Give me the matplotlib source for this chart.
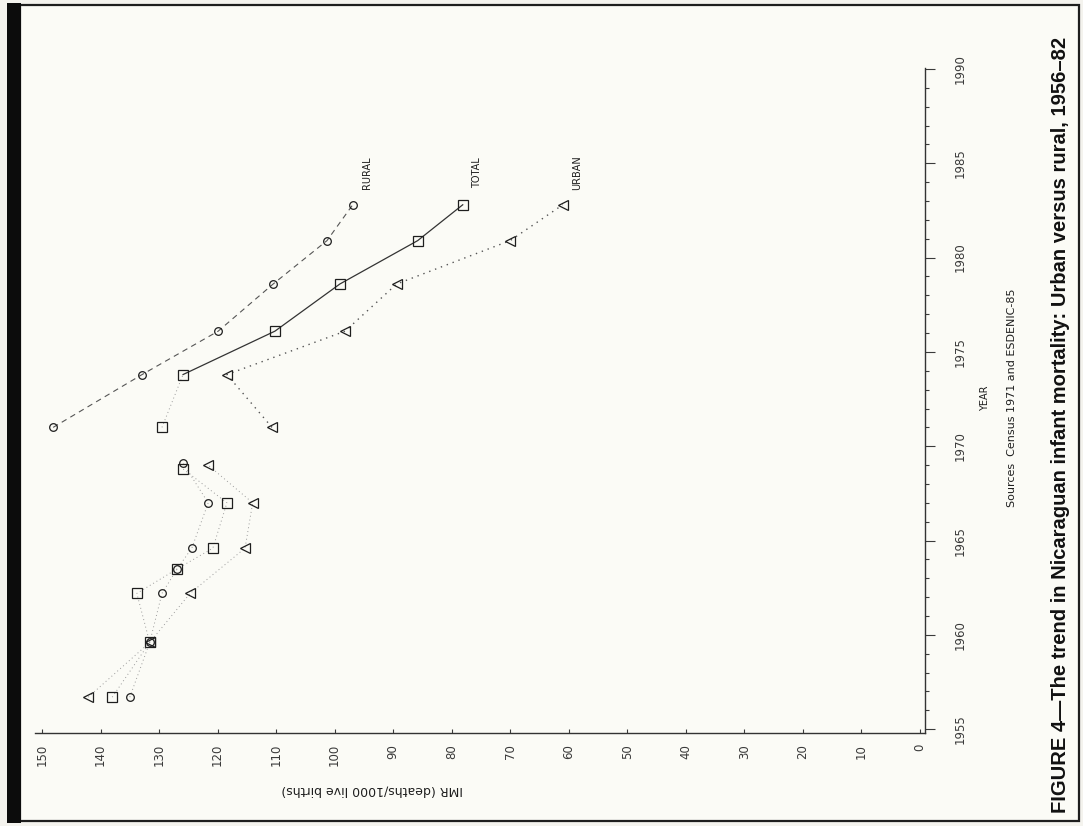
import matplotlib.pyplot as plt
from matplotlib.patches import Rectangle

rural_years = [1956.7, 1959.6, 1962.2, 1963.5, 1964.6, 1967.0, 1969.1,
               1971.0, 1973.8, 1976.1, 1978.6, 1980.9, 1982.8]
rural_imr = [135.0, 131.6, 129.5, 126.9, 124.4, 121.6, 125.9,
             148.1, 132.9, 119.9, 110.5, 101.3, 96.9]

total_years = [1956.7, 1959.6, 1962.2, 1963.5, 1964.6, 1967.0, 1968.8,
               1971.0, 1973.8, 1976.1, 1978.6, 1980.9, 1982.8]
total_imr = [138.0, 131.6, 133.8, 126.9, 120.8, 118.4, 125.9,
             129.5, 125.9, 110.2, 99.1, 85.8, 78.1]

urban_years = [1956.7, 1959.6, 1962.2, 1964.6, 1967.0, 1969.0,
               1971.0, 1973.8, 1976.1, 1978.6, 1980.9, 1982.8]
urban_imr = [142.1, 131.6, 124.7, 115.3, 114.0, 121.6,
             110.7, 118.4, 98.2, 89.4, 70.0, 61.0]

imr_ticks = list(range(0, 151, 10))
year_ticks = list(range(1955, 1991, 5))

W, H = 1083, 826
PAPER = "#fbfbf6"
INK = "#1e1e1e"

fig = plt.figure(figsize=(W / 100, H / 100), dpi=100)
fig.patch.set_facecolor("#f4f3ee")

# page frame
fig.add_artist(Rectangle((20 / W, 5 / H), 1059 / W, 816 / H, transform=fig.transFigure,
                         facecolor=PAPER, edgecolor=INK, linewidth=1.6, zorder=0))
fig.add_artist(Rectangle((7 / W, 3 / H), 14 / W, 820 / H, transform=fig.transFigure,
                         facecolor="#0c0c0c", edgecolor="none", zorder=1))

# plot area: IMR runs right-to-left, year runs bottom-to-top (page turned sideways)
ax = fig.add_axes([35 / W, 1 - 733 / H, 890 / W, 665 / H])
ax.set_facecolor("none")
ax.set_xlim(151.2, -0.9)
ax.set_ylim(1954.8, 1990.05)

for side in ("top", "left"):
    ax.spines[side].set_visible(False)
for side in ("bottom", "right"):
    ax.spines[side].set_color("#333333")
    ax.spines[side].set_linewidth(1.0)

ax.yaxis.tick_right()
ax.set_yticks(year_ticks)
ax.set_yticks(range(1955, 1991), minor=True)
ax.tick_params(axis="y", which="major", direction="out", length=7, width=0.8,
               colors="#3a3a3a", pad=14, labelsize=8.5, labelrotation=90)
ax.tick_params(axis="y", which="minor", direction="out", length=3, width=0.8,
               colors="#3a3a3a")
ax.set_xticks(imr_ticks)
ax.tick_params(axis="x", direction="in", length=3, width=0.8, colors="#3a3a3a",
               pad=8, labelsize=8.5, labelrotation=90)
for lab in ax.get_yticklabels():
    lab.set_verticalalignment("center")

faint = dict(color="#9a9a9a", linewidth=0.7, linestyle=(0, (1, 3)))
mk = dict(linestyle="none", markersize=6.5, markerfacecolor="none",
          markeredgecolor=INK, markeredgewidth=0.9)

# rural: faint early line, dashed after 1971
ax.plot(rural_imr[:7], rural_years[:7], **faint)
ax.plot(rural_imr[7:], rural_years[7:], color="#555555", linewidth=0.8,
        linestyle=(0, (5, 4)))
# total: faint early, dotted 1971-74, solid later
ax.plot(total_imr[:7], total_years[:7], **faint)
ax.plot(total_imr[7:9], total_years[7:9], **faint)
ax.plot(total_imr[8:], total_years[8:], color="#333333", linewidth=0.9)
# urban: faint early, dotted after 1971
ax.plot(urban_imr[:6], urban_years[:6], **faint)
ax.plot(urban_imr[6:], urban_years[6:], color="#555555", linewidth=1.0,
        linestyle=(0, (1, 3.5)))

ax.plot(rural_imr, rural_years, marker="o", **dict(mk, markersize=5.5))
ax.plot(total_imr, total_years, marker="s", **mk)
ax.plot(urban_imr, urban_years, marker="<", **mk)

for name, x in (("RURAL", rural_imr[-1]), ("TOTAL", total_imr[-1]),
                ("URBAN", urban_imr[-1])):
    ax.text(x - 2.5, 1984.5, name, rotation=90, ha="center", va="center",
            fontsize=7, color=INK)

fig.text(985 / W, 1 - 398 / H, "YEAR", rotation=90, ha="center", va="center",
         fontsize=7, color=INK)
fig.text(1012 / W, 1 - 398 / H, "Sources  Census 1971 and ESDENIC-85",
         rotation=90, ha="center", va="center", fontsize=8, color=INK)
fig.text(372 / W, 1 - 790 / H, "IMR (deaths/1000 live births)", rotation=180,
         ha="center", va="center", fontsize=9, color=INK)
fig.text(1061 / W, 1 - 425 / H,
         "FIGURE 4\u2014The trend in Nicaraguan infant mortality: Urban versus rural, 1956\u201382",
         rotation=90, ha="center", va="center", fontsize=14.5, fontweight="bold",
         family="Liberation Sans", color="#111111")

fig.savefig("out.png", dpi=100, facecolor=fig.get_facecolor())
